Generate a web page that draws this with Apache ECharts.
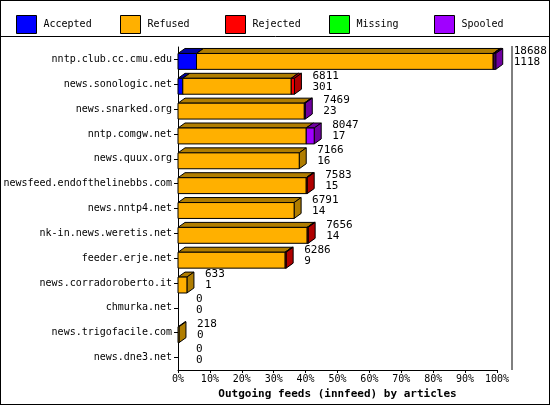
<!DOCTYPE html>
<html><head><meta charset="utf-8">
<script src="https://cdn.jsdelivr.net/npm/echarts@6/dist/echarts.min.js"></script>
<style>html,body{margin:0;padding:0;background:#fff}#c{width:548px;height:403px;border:1px solid #000}</style>
</head><body><div id="c"></div>
<script>
const categories = ["nntp.club.cc.cmu.edu","news.sonologic.net","news.snarked.org","nntp.comgw.net","news.quux.org","newsfeed.endofthelinebbs.com","news.nntp4.net","nk-in.news.weretis.net","feeder.erje.net","news.corradoroberto.it","chmurka.net","news.trigofacile.com","news.dne3.net"];
const accepted = [5.8, 1.5, 0, 0, 0, 0, 0, 0, 0, 0, 0, 0, 0];
const refused  = [93.0, 34.0, 39.6, 40.2, 38.0, 40.2, 36.4, 40.5, 33.6, 2.8, 0, 0.3, 0];
const rejected = [0.3, 1.0, 0, 0, 0, 0.3, 0, 0.3, 0.3, 0, 0, 0, 0];
const missing  = [0, 0, 0, 0, 0, 0, 0, 0, 0, 0, 0, 0, 0];
const spooled  = [0.5, 0, 0.3, 2.5, 0, 0, 0, 0, 0, 0, 0, 0, 0];
const offered  = [18688, 6811, 7469, 8047, 7166, 7583, 6791, 7656, 6286, 633, 0, 218, 0];
const acceptedCount = [1118, 301, 23, 17, 16, 15, 14, 14, 9, 1, 0, 0, 0];
const xTicks = [0,10,20,30,40,50,60,70,80,90,100];

const names = ["Accepted","Refused","Rejected","Missing","Spooled"];
const fronts = ["#0000ff","#ffb000","#ff0000","#00ff00","#a000ff"];
const darks  = ["#0000a0","#b07d00","#b00000","#00a000","#7000a0"];
const values = [accepted, refused, rejected, missing, spooled];
const D = 7, DY = 5;
const FF = '"DejaVu Sans Mono", monospace';

const chart = echarts.init(document.getElementById('c'));
const series = names.map((nm, si) => ({
  type: 'custom', name: nm, color: fronts[si],
  data: categories.map((c, i) => {
    let start = 0; for (let k = 0; k < si; k++) start += values[k][i];
    return [values[si][i], i, start];
  }),
  renderItem: (params, api) => {
    const v = api.value(0); if (!(v > 0)) return;
    const idx = api.value(1), s = api.value(2);
    const p0 = api.coord([s, idx]), p1 = api.coord([s + v, idx]);
    const h = api.size([0, 1])[1] * 0.64;
    const y0 = p0[1] - h / 2 + 2, y1 = y0 + h;
    const st = {stroke: '#000', lineWidth: 1};
    return {type: 'group', children: [
      {type: 'polygon', shape: {points: [[p0[0], y0], [p0[0] + D, y0 - DY], [p1[0] + D, y0 - DY], [p1[0], y0]]}, style: Object.assign({fill: darks[si]}, st)},
      {type: 'polygon', shape: {points: [[p1[0], y0], [p1[0] + D, y0 - DY], [p1[0] + D, y1 - DY], [p1[0], y1]]}, style: Object.assign({fill: darks[si]}, st)},
      {type: 'rect', shape: {x: p0[0], y: y0, width: p1[0] - p0[0], height: h}, style: Object.assign({fill: fronts[si]}, st)}
    ]};
  }
}));
series.push({
  type: 'custom', name: 'labels', silent: true, z: 5,
  data: categories.map((c, i) => [accepted[i] + refused[i] + rejected[i] + missing[i] + spooled[i], i, offered[i], acceptedCount[i]]),
  renderItem: (params, api) => {
    const p = api.coord([api.value(0), api.value(1)]);
    const ch = [{type: 'text', style: {x: p[0] + D + 11, y: p[1] - 3, text: api.value(2) + '\n' + api.value(3), font: '11px ' + FF, fill: '#000', lineHeight: 11, verticalAlign: 'middle'}}];
    if (params.dataIndex === 0) {
      const a = api.coord([100, 0]), b = api.coord([100, categories.length - 1]);
      const hh = api.size([0, 1])[1];
      ch.push({type: 'line', shape: {x1: a[0] + D + 8, y1: a[1] - hh / 2 - 1, x2: a[0] + D + 8, y2: b[1] + hh / 2}, style: {stroke: '#000', lineWidth: 1}});
    }
    return {type: 'group', children: ch};
  }
});

const legendLeft = [10, 114, 219, 323, 428];
chart.setOption({
  animation: false,
  textStyle: {fontFamily: FF},
  legend: names.map((nm, i) => ({
    data: [nm], left: legendLeft[i], top: 9, icon: 'rect', itemWidth: 20, itemHeight: 18, itemGap: 10,
    selectedMode: false, itemStyle: {borderColor: '#000', borderWidth: 1},
    textStyle: {fontFamily: FF, fontSize: 10, color: '#000', padding: [0, 0, 0, 2]}
  })),
  graphic: [{type: 'line', shape: {x1: 0, y1: 35.5, x2: 550, y2: 35.5}, style: {stroke: '#000', lineWidth: 1}}],
  grid: {left: 177, right: 52, top: 46, bottom: 34, outerBoundsMode: 'none', containLabel: false},
  xAxis: {type: 'value', min: 0, max: 100, interval: 10,
    name: 'Outgoing feeds (innfeed) by articles', nameLocation: 'middle', nameGap: 17,
    nameTextStyle: {fontWeight: 'bold', fontSize: 11, color: '#000', fontFamily: FF},
    axisLine: {show: true, lineStyle: {color: '#000'}}, axisTick: {show: true, length: 3, lineStyle: {color: '#000'}},
    splitLine: {show: false},
    axisLabel: {fontSize: 10, color: '#000', margin: 4, formatter: v => xTicks.includes(v) ? v + '%' : ''}},
  yAxis: {type: 'category', data: categories, inverse: true,
    axisLine: {show: true, lineStyle: {color: '#000'}}, axisTick: {show: true, length: 4, alignWithLabel: true, lineStyle: {color: '#000'}},
    axisLabel: {fontSize: 10, color: '#000', margin: 6}},
  series: series
});
</script></body></html>
